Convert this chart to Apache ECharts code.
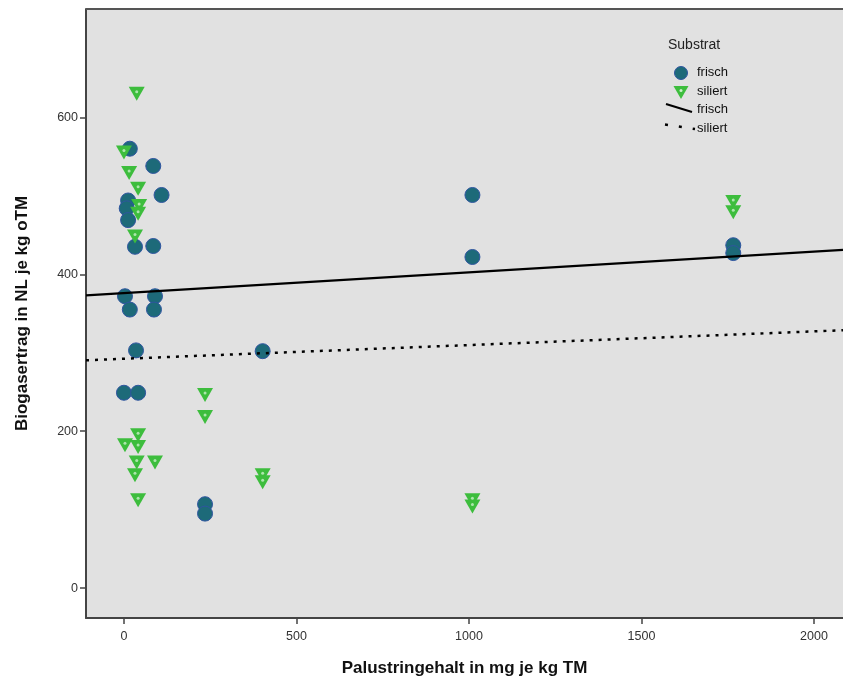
<!DOCTYPE html>
<html>
<head>
<meta charset="utf-8">
<script src="https://cdn.jsdelivr.net/npm/echarts@6/dist/echarts.min.js"></script>
<style>html,body{margin:0;padding:0;background:#fff}#c{width:843px;height:682px}</style>
</head>
<body>
<div id="c"></div>
<script>
// Data
const frischPoints = [
  [17,560],[85,538],[109,501],[12,494],[8,484],[12,469],[32,435],[85,436],
  [3,372],[17,355],[90,372],[87,355],[35,303],[0,249],[41,249],
  [402,302],[235,107],[235,95],[1010,501],[1010,422],[1766,437],[1766,427]
];
const siliertPoints = [
  [37,630],[0,555],[15,529],[41,509],[44,487],[41,477],[32,448],
  [41,195],[3,182],[41,180],[37,160],[90,160],[32,144],[41,112],
  [235,246],[235,218],[402,144],[402,135],[1010,112],[1010,104],[1766,492],[1766,479]
];
const frischFit = [[-110,373],[2084,431]];
const siliertFit = [[-110,290.4],[2084,328.7]];
const xTicks = [0,500,1000,1500,2000];
const yTicks = [0,200,400,600];
const xTitle = 'Palustringehalt in mg je kg TM';
const yTitle = 'Biogasertrag in NL je kg oTM';
const legendTitle = 'Substrat';
const legendLabels = ['frisch','siliert','frisch','siliert'];

const FONT = '"Liberation Sans", Arial, sans-serif';
const circleColor = '#1d6a79';
const circleBorder = '#2f55a0';
const triColor = '#3dbd3d';
const triPath = 'path://M0,0 L20,0 L10,17 Z';

const chart = echarts.init(document.getElementById('c'), null, {renderer:'canvas'});
const axisCommon = {
  axisLine:{show:true, onZero:false, lineStyle:{color:'#444', width:2}},
  axisTick:{show:true, length:6, lineStyle:{color:'#444', width:1.5}},
  splitLine:{show:false},
  nameLocation:'middle',
  nameTextStyle:{fontFamily:FONT, fontWeight:'bold', fontSize:17, color:'#111'},
  axisLabel:{fontFamily:FONT, fontSize:12.5, color:'#333', formatter:(v)=>String(v)}
};
chart.setOption({
  backgroundColor:'#fff',
  animation:false,
  grid:{left:86, top:9, right:0, bottom:64, show:true, backgroundColor:'#e1e1e1', borderWidth:0},
  xAxis:Object.assign({}, axisCommon, {
    type:'value', min:-110, max:2084,
    name:xTitle, nameGap:42,
    axisTick:Object.assign({}, axisCommon.axisTick, {customValues:xTicks}),
    axisLabel:Object.assign({}, axisCommon.axisLabel, {customValues:xTicks, margin:12})
  }),
  yAxis:Object.assign({}, axisCommon, {
    type:'value', min:-38, max:738,
    name:yTitle, nameGap:55,
    axisTick:Object.assign({}, axisCommon.axisTick, {customValues:yTicks}),
    axisLabel:Object.assign({}, axisCommon.axisLabel, {customValues:yTicks, margin:8})
  }),
  series:[
    {type:'scatter', data:frischPoints, symbol:'circle', symbolSize:15,
     itemStyle:{color:circleColor, borderColor:circleBorder, borderWidth:1, opacity:1}, z:2},
    {type:'scatter', data:siliertPoints, symbol:triPath, symbolSize:[16,14],
     itemStyle:{color:triColor, opacity:1}, z:3},
    {type:'scatter', data:siliertPoints, symbol:'circle', symbolSize:3, symbolOffset:[0,-2],
     itemStyle:{color:'#c8f0c8'}, z:4, silent:true},
    {type:'line', data:frischFit, symbol:'none', lineStyle:{color:'#000', width:2.2}, z:5},
    {type:'line', data:siliertFit, symbol:'none', lineStyle:{color:'#000', width:2.5, type:[3,6]}, z:5}
  ],
  graphic:[
    {type:'line', shape:{x1:86, y1:9, x2:843, y2:9}, style:{stroke:'#555', lineWidth:2}, z:10},
    {type:'text', left:668, top:38, style:{text:legendTitle, font:'14px '+FONT, fill:'#222'}},
    {type:'circle', shape:{cx:681, cy:73, r:6.5}, style:{fill:circleColor, stroke:circleBorder, lineWidth:1}},
    {type:'text', left:697, top:66, style:{text:legendLabels[0], font:'13px '+FONT, fill:'#111'}},
    {type:'polygon', shape:{points:[[673.5,86],[688.5,86],[681,99]]}, style:{fill:triColor}},
    {type:'circle', shape:{cx:681, cy:90.5, r:1.5}, style:{fill:'#c8f0c8'}},
    {type:'text', left:697, top:85, style:{text:legendLabels[1], font:'13px '+FONT, fill:'#111'}},
    {type:'line', shape:{x1:666, y1:104, x2:692, y2:112}, style:{stroke:'#000', lineWidth:2.2}},
    {type:'text', left:697, top:103, style:{text:legendLabels[2], font:'13px '+FONT, fill:'#111'}},
    {type:'line', shape:{x1:665, y1:124.5, x2:695, y2:129}, style:{stroke:'#000', lineWidth:2.5, lineDash:[3,11]}},
    {type:'text', left:697, top:122, style:{text:legendLabels[3], font:'13px '+FONT, fill:'#111'}}
  ]
});
</script>
</body>
</html>
